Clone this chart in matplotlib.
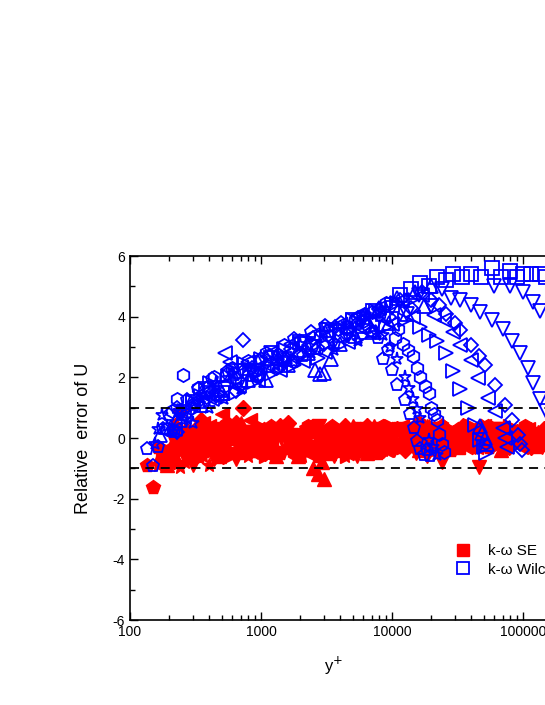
import numpy as np
import matplotlib.pyplot as plt
from matplotlib.lines import Line2D
from matplotlib.ticker import FixedLocator, NullFormatter

plt.rcParams['font.family'] = ['Liberation Sans', 'DejaVu Sans']

# ---- blue (k-omega Wilcox), one list pair per case / marker ----
b_pent_x = [135, 150, 165, 180, 200, 215, 230, 250, 270, 300, 330, 370, 420, 480, 560, 650, 750, 870,
            1000, 1150, 1350, 1550, 1800, 2100, 2400, 2700, 3100, 3600, 4100, 4700, 5400, 6200, 7000,
            7800, 8500, 9300, 10000, 11000, 12500, 13700, 14700, 15500, 16500, 17500, 18500, 19500]
b_pent_y = [-0.35, -0.92, -0.3, 0.3, 0.75, 0.2, 1.0, 0.75, 1.25, 1.1, 1.6, 1.15, 1.95, 1.4, 2.2, 1.95,
            2.25, 2.2, 2.6, 2.35, 2.75, 2.6, 3.25, 2.7, 3.5, 2.95, 3.7, 3.1, 3.8, 3.55, 3.75, 4.05, 3.5,
            3.3, 2.6, 2.9, 2.24, 1.75, 1.25, 0.8, 0.33, -0.1, -0.35, -0.55, -0.4, -0.6]
b_hex_x = [190, 210, 228, 254, 290, 330, 380, 440, 520, 600, 700, 800, 950, 1100, 1300, 1500, 1750,
           2000, 2400, 2800, 3300, 3900, 4500, 5200, 6000, 7000, 8000, 9000, 10500, 11200, 12100,
           13300, 14500, 15500, 16500, 18000, 19000, 20000, 21000, 22000, 23000, 24000, 25000]
b_hex_y = [0.3, 0.9, 1.3, 2.07, 1.0, 1.65, 1.35, 2.0, 1.7, 2.3, 1.8, 2.55, 2.1, 2.8, 2.3, 3.05, 2.55,
           3.2, 3.1, 3.35, 3.35, 3.6, 3.65, 3.9, 3.85, 4.15, 4.1, 4.45, 3.3, 3.6, 3.1,
           2.9, 2.7, 2.3, 2.0, 1.7, 1.5, 1.0, 0.8, 0.6, 0.13, -0.2, -0.45]
b_star_x = [155, 165, 175, 190, 213, 235, 260, 300, 350, 400, 450, 520, 600, 700, 800, 900, 1050,
            1300, 1550, 1800, 2000, 2400, 3000, 3600, 4500, 5500, 6500, 7500, 8500, 9600, 11000,
            12500, 13500, 14500, 15500, 16500, 19000, 20500, 22000]
b_star_y = [-0.2, 0.3, 0.76, 0.4, 0.2, 0.9, 0.6, 0.5, 1.3, 1.0, 1.8, 1.3, 2.1, 1.6, 2.35, 2.05, 2.3,
            2.4, 2.65, 2.5, 3.1, 2.8, 3.45, 2.9, 3.75, 3.2, 4.0, 3.45, 3.4, 3.0, 2.6,
            2.0, 1.65, 1.3, 0.95, 0.66, -0.07, -0.3, -0.56]
b_right_x = [260, 300, 350, 410, 480, 560, 650, 760, 880, 1000, 1200, 1500, 1800, 2200, 2700, 3300,
             4000, 5000, 6000, 7500, 9000, 11000, 12500, 14000, 16500, 19000, 22000, 26000, 29000,
             33000, 38000, 43000, 47000, 50000, 52000]
b_right_y = [0.9, 1.2, 1.4, 1.8, 1.5, 2.05, 1.5, 2.45, 1.85, 2.6, 2.1, 2.95, 2.4, 3.2, 2.65, 3.6,
             3.05, 3.9, 3.35, 4.2, 3.65, 4.45, 3.9, 4.55, 3.66, 3.4, 3.2, 2.8, 2.2,
             1.6, 1.0, 0.43, -0.07, -0.3, -0.5]
b_left_x = [220, 260, 300, 360, 420, 530, 580, 680, 800, 950, 1200, 1400, 1700, 2100, 2500, 3100,
            3800, 4600, 5500, 6700, 8000, 10000, 12000, 14500, 17000, 21000, 25000, 29000, 33000,
            40000, 45000, 54000, 61000, 70000, 73000, 76000]
b_left_y = [0.3, 0.7, 1.1, 1.5, 1.3, 2.8, 2.5, 1.7, 2.5, 1.9, 2.8, 2.25, 3.1, 2.55, 3.4, 2.85,
            3.7, 3.15, 4.05, 3.5, 4.3, 3.75, 4.55, 4.0, 4.7, 4.05, 3.9, 3.5, 3.07,
            2.57, 1.98, 1.32, 0.9, 0.33, 0.0, -0.3]
b_dia_x = [230, 280, 330, 390, 450, 550, 650, 730, 850, 950, 1150, 1400, 1700, 2000, 2500, 3000,
           3700, 4500, 5500, 6500, 8000, 9500, 11500, 14000, 17000, 20000, 23000, 26000, 30000,
           33000, 40000, 46000, 51000, 61000, 73000, 83000, 91000, 95000, 98000]
b_dia_y = [0.2, 0.9, 1.2, 1.65, 1.4, 2.1, 1.55, 3.23, 2.3, 2.05, 2.7, 2.4, 2.95, 2.75, 3.3, 3.1,
           3.65, 3.4, 3.95, 3.7, 4.25, 4.0, 4.55, 4.3, 4.8, 4.55, 4.4, 4.1, 3.8,
           3.56, 3.07, 2.7, 2.4, 1.75, 1.09, 0.6, 0.1, -0.2, -0.4]
b_down_x = [400, 550, 700, 900, 1200, 1500, 2000, 2600, 3500, 4500, 6000, 7500, 10000, 13000,
            16000, 20000, 24000, 28000, 33000, 40000, 47000, 58000, 70000, 82000, 95000, 110000,
            120000, 135000, 150000]
b_down_y = [1.5, 1.6, 2.2, 2.2, 2.8, 2.45, 3.1, 3.0, 3.5, 3.4, 3.9, 3.75, 4.3, 4.1,
            4.7, 4.35, 4.9, 4.6, 4.55, 4.4, 4.15, 3.9, 3.6, 3.2, 2.8, 2.3,
            1.8, 1.3, 0.9]
b_down2_x = [60000, 80000, 100000, 120000, 135000]
b_down2_y = [5.0, 5.0, 4.8, 4.5, 4.2]
b_sq_x = [300, 380, 500, 650, 900, 1200, 1500, 2000, 2500, 3200, 4000, 5000, 6000, 7200, 8500,
          10000, 11500, 14000, 16500, 19000, 22000, 26000, 29000, 34000, 40000, 48000, 58000,
          68000, 80000, 90000, 100000, 115000, 135000, 150000]
b_sq_y = [1.2, 1.6, 1.5, 2.2, 2.1, 2.65, 2.6, 3.15, 3.0, 3.55, 3.4, 3.9, 3.7, 4.2, 4.1,
          4.4, 4.7, 4.9, 5.1, 5.0, 5.3, 5.2, 5.4, 5.3, 5.4, 5.3, 5.6,
          5.3, 5.5, 5.3, 5.4, 5.4, 5.4, 5.3]
b_up_x = [170, 205, 240, 290, 350, 420, 500, 600, 800, 950, 1100, 1350, 1600, 1900, 2300, 2600,
          2800, 3000, 3400, 4000, 4500, 5200, 6000, 7000, 8000, 9500, 11000, 13000, 15000, 17500,
          20000, 47000, 49000, 51000, 53000]
b_up_y = [0.1, 0.35, 0.6, 1.2, 1.1, 1.6, 1.5, 2.15, 1.9, 2.5, 1.9, 2.65, 2.4, 2.9, 2.8, 2.24,
          2.1, 2.15, 2.6, 3.1, 3.7, 3.35, 4.0, 3.5, 4.3, 3.8, 4.6, 4.1, 4.8, 4.35,
          5.0, 0.4, 0.15, 0.0, -0.2]

# ---- red (k-omega SE..) ----
r_pent_x = [135, 150, 190, 240, 300, 380, 480, 620, 800, 1050, 1400, 1800, 2400, 3100, 4000, 5200,
            6800, 8800, 11500, 15000, 19000, 25000, 32000, 42000, 55000, 70000, 90000, 115000, 145000,
            165, 215, 270, 340, 430, 550, 700, 900, 1200, 1600, 2100, 2700, 3500, 4600, 6000, 7800,
            10000, 13000, 17000, 22000, 28000, 37000, 48000, 62000, 80000, 100000, 130000]
r_pent_y = [-0.9, -1.6, -0.5, 0.9, -0.1, 0.1, -0.4, 0.2, -0.2, 0.3, -0.5, 0.1, -0.3, 0.2, -0.1, 0.3,
            -0.2, 0.1, -0.3, 0.4, 0.0, -0.2, 0.3, 0.0, -0.3, 0.2, -0.1, 0.1, -0.2,
            -0.3, 0.1, -0.6, 0.3, -0.2, 0.5, -0.5, 0.0, 0.4, -0.3, 0.2, -0.6, 0.4, -0.4, 0.0, -0.5,
            0.3, 0.0, -0.2, 0.3, -0.4, 0.2, 0.4, -0.1, 0.0, 0.3, -0.3]
r_up_x = [170, 210, 260, 330, 420, 540, 700, 900, 1150, 1500, 1900, 2500, 2700, 3000, 3300, 4300,
          5600, 7300, 9500, 12500, 16000, 21000, 27000, 35000, 45000, 60000, 78000, 100000, 130000,
          190, 240, 300, 380, 480, 620, 800, 1020, 1300, 1700, 2200, 2900, 3800, 5000, 6400, 8300,
          11000, 14000, 18500, 24000, 31000, 40000, 52000, 68000, 88000, 115000, 145000]
r_up_y = [-0.6, -0.2, 0.1, -0.5, 0.3, -0.2, 0.5, -0.4, 0.2, 0.4, -0.6, -1.0, -1.2, -1.35, -0.5, 0.3,
          -0.3, 0.4, -0.1, 0.2, -0.4, 0.3, -0.1, 0.4, -0.2, 0.1, 0.3, -0.1, 0.2,
          -0.9, 0.2, -0.3, 0.0, -0.6, 0.3, -0.1, 0.2, -0.6, 0.0, 0.3, -0.8, -0.2, 0.4, -0.5, 0.0,
          0.3, -0.2, 0.4, -0.3, 0.1, -0.1, 0.3, -0.4, 0.0, 0.3, -0.2]
r_left_x = [200, 250, 320, 400, 500, 650, 820, 1050, 1350, 1750, 2200, 2900, 3700, 4800, 6200,
            8000, 10500, 13500, 17500, 23000, 30000, 39000, 50000, 65000, 85000, 110000, 140000,
            230, 285, 360, 450, 570, 730, 930, 1200, 1550, 1950, 2500, 3300, 4200, 5400, 7000,
            9000, 12000, 15500, 20000, 26000, 34000, 44000, 57000, 75000, 97000, 125000]
r_left_y = [-0.3, 0.2, -0.6, 0.4, 0.8, -0.1, 0.6, -0.5, 0.1, -0.2, 0.4, -0.4, 0.0, 0.3, -0.5,
            0.2, -0.2, 0.3, -0.1, 0.2, -0.3, 0.1, 0.4, -0.2, 0.0, 0.3, -0.1,
            0.0, -0.5, 0.5, -0.2, 0.3, -0.5, 0.1, 0.3, -0.4, 0.2, -0.6, 0.2, -0.3, -0.1, 0.3,
            -0.4, 0.4, -0.2, 0.3, -0.1, 0.3, -0.3, 0.0, 0.2, -0.3, 0.2]
r_right_x = [180, 230, 290, 370, 460, 590, 760, 980, 1250, 1600, 2100, 2700, 3500, 4500, 5800,
             7500, 9800, 12700, 16500, 21500, 28000, 36000, 47000, 61000, 80000, 105000, 135000,
             205, 260, 330, 415, 520, 670, 860, 1100, 1420, 1850, 2400, 3100, 4000, 5100, 6600,
             8600, 11200, 14500, 19000, 24500, 32000, 41000, 54000, 70000, 92000, 120000, 150000]
r_right_y = [-0.8, -0.4, 0.3, -0.2, 0.0, -0.6, 0.2, 0.4, -0.3, 0.1, -0.5, 0.3, -0.2, -0.6, 0.1,
             -0.3, 0.4, -0.1, 0.2, -0.4, 0.3, -0.1, 0.1, -0.3, 0.4, 0.0, -0.2,
             -0.5, 0.0, -0.7, 0.4, -0.4, 0.2, -0.3, -0.6, 0.3, -0.4, 0.1, -0.5, 0.3, 0.0, -0.4,
             0.2, -0.3, 0.3, -0.2, 0.1, -0.3, 0.4, -0.1, 0.2, -0.2, 0.3, 0.1]
r_dia_x = [220, 280, 350, 450, 580, 730, 950, 1200, 1600, 2000, 2600, 3400, 4400, 5700, 7400,
           9600, 12500, 16000, 21000, 27000, 35000, 46000, 60000, 78000, 100000, 130000,
           250, 320, 400, 510, 650, 850, 1080, 1400, 1800, 2300, 3000, 3900, 5000, 6500, 8500,
           11000, 14000, 18500, 24000, 31000, 40000, 52000, 68000, 90000, 115000, 145000]
r_dia_y = [0.4, -0.5, 0.6, -0.3, 0.2, 1.0, -0.2, 0.1, 0.5, -0.4, 0.2, -0.1, 0.4, -0.3, 0.2,
           0.0, -0.4, 0.3, 0.1, -0.2, 0.4, -0.1, 0.2, -0.3, 0.3, 0.0,
           -0.2, 0.3, 0.0, -0.6, 0.5, 0.2, -0.5, 0.4, -0.1, 0.3, -0.5, 0.2, -0.2, 0.4, -0.4,
           0.3, 0.1, -0.3, 0.4, 0.0, -0.2, 0.3, -0.1, 0.2, -0.3, 0.3]
r_down_x = [190, 260, 340, 440, 570, 740, 960, 1250, 1620, 2100, 2750, 3600, 4700, 6100, 7900,
            10300, 13400, 17500, 18500, 22800, 24000, 29600, 38000, 46000, 50000, 64000, 83000,
            108000, 140000,
            225, 300, 390, 500, 650, 850, 1100, 1420, 1850, 2400, 3150, 4100, 5400, 7000, 9000,
            11800, 15300, 20000, 26500, 33500, 43000, 56000, 73000, 95000, 125000]
r_down_y = [-0.9, -0.3, 0.0, -0.7, 0.3, -0.4, 0.1, -0.6, 0.3, -0.2, 0.4, -0.6, 0.1, -0.2, 0.3,
            -0.4, 0.2, -0.1, -0.6, 0.3, -0.8, -0.2, 0.2, -0.95, -0.1, 0.3, -0.2, 0.1, -0.3,
            -0.6, -0.9, 0.3, -0.2, -0.7, 0.2, -0.4, 0.0, -0.6, 0.2, -0.3, 0.0, -0.6, 0.2, -0.3,
            0.1, -0.5, 0.2, -0.4, 0.1, -0.3, 0.0, -0.4, 0.2, -0.1]
r_star_x = [165, 200, 240, 290, 360, 450, 560, 700, 880, 1100, 1400, 1800, 2300, 3000, 3900,
            5000, 6500, 8500, 11000, 14500, 19000, 25000, 33000, 44000, 58000, 76000, 100000, 130000,
            180, 220, 265, 325, 400, 500, 630, 790, 990, 1250, 1600, 2050, 2650, 3450, 4400, 5700,
            7500, 9700, 12700, 16500, 22000, 29000, 38000, 51000, 67000, 88000, 115000, 145000]
r_star_y = [-0.9, -0.7, -0.95, -0.3, -0.6, 0.0, -0.4, 0.2, -0.5, -0.1, 0.3, -0.3, 0.0, -0.5, 0.2,
            -0.3, 0.1, -0.4, 0.2, -0.2, 0.4, 0.0, -0.3, 0.2, 0.0, -0.2, 0.3, 0.1,
            -0.6, -0.4, -0.8, 0.1, -0.9, -0.2, 0.1, -0.6, 0.0, -0.4, 0.0, -0.6, 0.2, -0.2, -0.6,
            0.0, -0.3, 0.1, -0.3, 0.0, -0.4, 0.2, 0.0, -0.3, 0.3, 0.0, -0.3, -0.1]
r_hex_x = [175, 215, 270, 340, 430, 550, 710, 920, 1200, 1550, 2000, 2600, 3400, 4400, 5700,
           7400, 9600, 12500, 16200, 21000, 27500, 36000, 47000, 62000, 80000, 104000, 135000,
           195, 240, 300, 380, 480, 620, 800, 1050, 1380, 1780, 2300, 3000, 3900, 5000, 6500,
           8500, 11000, 14300, 18500, 24000, 31500, 41000, 54000, 71000, 92000, 120000, 150000]
r_hex_y = [-0.4, -0.8, -0.2, 0.2, -0.4, 0.1, -0.2, 0.3, -0.3, 0.1, -0.1, 0.2, -0.4, 0.0, 0.3,
           -0.1, 0.2, -0.2, 0.5, 0.1, -0.1, 0.3, 0.0, 0.2, -0.1, 0.4, 0.1,
           -0.6, 0.0, -0.5, -0.1, 0.3, -0.5, 0.2, -0.1, 0.2, -0.5, 0.4, -0.2, 0.1, -0.5, 0.0,
           0.4, -0.3, 0.1, -0.3, 0.4, 0.2, -0.3, 0.4, -0.2, 0.2, -0.2, 0.3]
r_sq_x = [300, 420, 600, 850, 1200, 1700, 2400, 3400, 4800, 6800, 9500, 13500, 19000, 27000,
          38000, 53000, 75000, 105000, 150000,
          350, 500, 720, 1000, 1450, 2000, 2900, 4000, 5700, 8000, 11500, 16000, 23000, 32000,
          45000, 63000, 90000, 125000]
r_sq_y = [0.1, -0.3, 0.0, 0.2, -0.2, 0.1, -0.3, 0.1, -0.2, 0.2, 0.0, 0.3, -0.2, 0.0,
          0.2, 0.1, -0.1, 0.2, 0.0,
          -0.4, 0.3, -0.3, -0.4, 0.3, -0.1, 0.2, -0.4, 0.3, -0.2, 0.3, 0.0, 0.3, -0.3,
          -0.1, 0.3, 0.2, -0.2]

red_sets = [(r_pent_x, r_pent_y, 'p'), (r_up_x, r_up_y, '^'), (r_left_x, r_left_y, '<'),
            (r_right_x, r_right_y, '>'), (r_dia_x, r_dia_y, 'D'), (r_down_x, r_down_y, 'v'),
            (r_star_x, r_star_y, '*'), (r_hex_x, r_hex_y, 'h'), (r_sq_x, r_sq_y, 's')]
blue_sets = [(b_pent_x, b_pent_y, 'p'), (b_hex_x, b_hex_y, 'h'), (b_star_x, b_star_y, '*'),
             (b_right_x, b_right_y, '>'), (b_left_x, b_left_y, '<'), (b_dia_x, b_dia_y, 'D'),
             (b_down_x, b_down_y, 'v'), (b_down2_x, b_down2_y, 'v'), (b_sq_x, b_sq_y, 's'),
             (b_up_x, b_up_y, '^')]

fig = plt.figure(figsize=(5.45, 7.05), dpi=100)
# axes run past the right edge of the picture (the source image is cropped)
ax = fig.add_axes([130 / 545, 1 - 620 / 705, 524 / 545, 364 / 705])

for xs, ys, m in red_sets:
    ax.plot(xs, ys, linestyle='none', marker=m, ms=10 if m != 'D' else 8,
            color='red', mec='red', zorder=2)
for xs, ys, m in blue_sets:
    ax.plot(xs, ys, linestyle='none', marker=m, ms=9.5 if m != 'D' else 7.5,
            mfc='none', mec='blue', mew=1.3, zorder=3)

ax.axhline(1, color='black', ls=(0, (5, 3.5)), lw=1.3, zorder=4)
ax.axhline(-1, color='black', ls=(0, (5, 3.5)), lw=1.3, zorder=4)

ax.set_xscale('log')
ax.set_xlim(100, 1e6)
ax.set_ylim(-6, 6)
ax.set_xticks([100, 1000, 10000, 100000])
ax.set_xticklabels(['100', '1000', '10000', '100000'])
ax.xaxis.set_minor_locator(FixedLocator([k * 10 ** e for e in range(2, 6) for k in range(2, 10)]))
ax.xaxis.set_minor_formatter(NullFormatter())
ax.set_yticks([-6, -4, -2, 0, 2, 4, 6])
ax.set_yticklabels(['-6', '-4', '-2', '0', '2', '4', '6'])
ax.set_yticks([-5, -3, -1, 1, 3, 5], minor=True)

ax.tick_params(which='both', direction='in', top=True, right=False, labelsize=10, width=1)
ax.tick_params(which='major', length=6)
ax.tick_params(which='minor', length=3.5)
for s in ax.spines.values():
    s.set_linewidth(1.2)

ax.set_ylabel('Relative  error of U', fontsize=13)
ax.yaxis.set_label_coords(-(130 - 92) / 524, 0.5)
ax.set_xlabel('y$^{+}$', fontsize=12)
ax.xaxis.set_label_coords((333 - 130) / 524, -0.095)

handles = [Line2D([], [], ls='none', marker='s', ms=8, color='red'),
           Line2D([], [], ls='none', marker='s', ms=8, mfc='none', mec='blue', mew=1.3)]
fig.legend(handles, ['k-\u03c9 SE', 'k-\u03c9 Wilcox'], loc='upper left',
           bbox_to_anchor=(442 / 545, 1 - 538 / 705), frameon=False, fontsize=11,
           handletextpad=0.6, labelspacing=0.3, borderaxespad=0)

fig.savefig('out.png', dpi=100)
